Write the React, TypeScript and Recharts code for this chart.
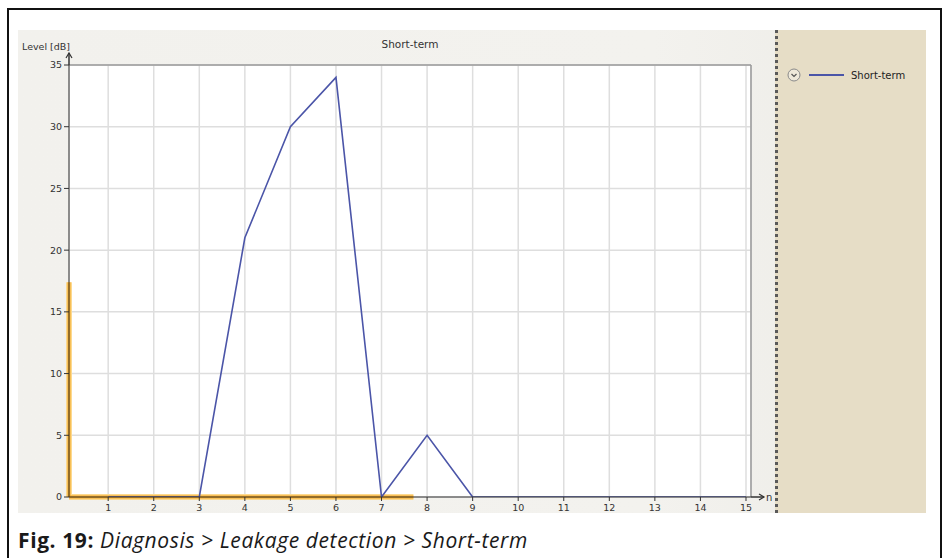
import React from "react";
import {
  LineChart,
  Line,
  XAxis,
  YAxis,
  CartesianGrid,
  ReferenceLine,
  Legend,
} from "recharts";

// sample index n and measured level in dB
const samples = [1, 2, 3, 4, 5, 6, 7, 8, 9, 10, 11, 12, 13, 14, 15];
const levels = [0, 0, 0, 21, 30, 34, 0, 5, 0, 0, 0, 0, 0, 0, 0];

const xTicks = [1, 2, 3, 4, 5, 6, 7, 8, 9, 10, 11, 12, 13, 14, 15];
const yTicks = [0, 5, 10, 15, 20, 25, 30, 35];
const xDomain = [0.14, 15.11];
const yDomain = [0, 35];

// orange selection marks on the axes
const markerX = [0.14, 7.7];
const markerY = [0, 17.4];

const data = samples.map((n, i) => ({ n, level: levels[i] }));

const BLUE = "#4b55a8";
const ORANGE = "#f3a620";
const GLOW = "#fcd990";
const UI_FONT = "'DejaVu Sans', sans-serif";

const YLabel = ({ viewBox }: any) => {
  const x = viewBox.x + viewBox.width;
  const y = viewBox.y;
  return (
    <g>
      <line x1={x} y1={y} x2={x} y2={y - 12} stroke="#333" strokeWidth={1.5} />
      <polyline
        points={`${x - 3},${y - 7} ${x},${y - 12} ${x + 3},${y - 7}`}
        fill="none"
        stroke="#333"
        strokeWidth={1.2}
      />
      <text x={4} y={y - 15} fontSize={9.5} fill="#333" fontFamily={UI_FONT}>
        Level [dB]
      </text>
    </g>
  );
};

const XLabel = ({ viewBox }: any) => {
  const x = viewBox.x + viewBox.width;
  const y = viewBox.y;
  return (
    <g>
      <line x1={x} y1={y} x2={x + 13} y2={y} stroke="#333" strokeWidth={1.5} />
      <polyline
        points={`${x + 8},${y - 3} ${x + 13},${y} ${x + 8},${y + 3}`}
        fill="none"
        stroke="#333"
        strokeWidth={1.2}
      />
      <text x={x + 15} y={y + 4} fontSize={10} fill="#333" fontFamily={UI_FONT}>
        n
      </text>
    </g>
  );
};

const LegendPanel = ({ payload }: any) => (
  <div
    style={{
      display: "flex",
      alignItems: "center",
      marginTop: 38,
      marginLeft: 9,
      fontFamily: UI_FONT,
      fontSize: 10,
      color: "#222",
    }}
  >
    <svg width={14} height={14} style={{ marginRight: 8 }}>
      <circle cx={7} cy={7} r={6} fill="#efe9da" stroke="#8a8a8a" strokeWidth={1} />
      <polyline points="4.5,6 7,8.5 9.5,6" fill="none" stroke="#555" strokeWidth={1.2} />
    </svg>
    {(payload || []).map((p: any) => (
      <React.Fragment key={p.value}>
        <span
          style={{ display: "inline-block", width: 35, height: 2, background: p.color, marginRight: 7 }}
        />
        <span>{p.value}</span>
      </React.Fragment>
    ))}
  </div>
);

export default function App() {
  return (
    <div style={{ position: "absolute", left: 0, top: 0, width: 944, height: 558, background: "#fff" }}>
      <div
        style={{
          position: "absolute",
          left: 7,
          top: 8,
          width: 931,
          height: 560,
          borderTop: "2px solid #111",
          borderLeft: "2px solid #111",
          borderRight: "2px solid #111",
        }}
      />
      <div
        style={{
          position: "absolute",
          left: 18,
          top: 30,
          width: 908,
          height: 483,
          background: "linear-gradient(90deg, #f2f1ed 0%, #f3f2ee 70%, #ecebe6 100%)",
        }}
      >
        <div
          style={{
            position: "absolute",
            left: 312,
            top: 8,
            width: 160,
            textAlign: "center",
            fontFamily: UI_FONT,
            fontSize: 10.5,
            color: "#333",
          }}
        >
          Short-term
        </div>
        <LineChart width={908} height={483} data={data} margin={{ top: 35, right: 175, bottom: 0, left: 0 }}>
          <CartesianGrid stroke="#dedede" strokeWidth={1.5} fill="#ffffff" />
          <XAxis
            dataKey="n"
            type="number"
            domain={xDomain}
            allowDataOverflow
            ticks={xTicks}
            height={16}
            tickSize={4}
            stroke="#333"
            tick={{ fontSize: 9.5, fill: "#333", fontFamily: UI_FONT, dy: 1 }}
            label={{ content: XLabel }}
          />
          <YAxis
            type="number"
            domain={yDomain}
            allowDataOverflow
            ticks={yTicks}
            width={51}
            tickSize={5}
            stroke="#333"
            tick={{ fontSize: 9.5, fill: "#333", fontFamily: UI_FONT }}
            label={{ content: YLabel }}
          />
          <ReferenceLine y={yDomain[1]} stroke="#9a9a9a" strokeWidth={1.5} />
          <ReferenceLine x={xDomain[1]} stroke="#9a9a9a" strokeWidth={1.5} />
          <ReferenceLine
            segment={[{ x: markerX[0], y: markerY[0] }, { x: markerX[1], y: markerY[0] }]}
            stroke={GLOW}
            strokeWidth={6}
          />
          <ReferenceLine
            segment={[{ x: markerX[0], y: markerY[0] }, { x: markerX[0], y: markerY[1] }]}
            stroke={GLOW}
            strokeWidth={6}
          />
          <ReferenceLine
            segment={[{ x: markerX[0], y: markerY[0] }, { x: markerX[1], y: markerY[0] }]}
            stroke={ORANGE}
            strokeWidth={3}
          />
          <ReferenceLine
            segment={[{ x: markerX[0], y: markerY[0] }, { x: markerX[0], y: markerY[1] }]}
            stroke={ORANGE}
            strokeWidth={3}
          />
          <Line
            type="linear"
            dataKey="level"
            name="Short-term"
            stroke={BLUE}
            strokeWidth={1.6}
            dot={false}
            activeDot={false}
            isAnimationActive={false}
          />
          <Legend
            layout="vertical"
            align="center"
            verticalAlign="middle"
            content={LegendPanel}
            wrapperStyle={{
              left: 757,
              top: 0,
              width: 151,
              height: 483,
              background: "#e6ddc6",
              borderLeft: "3px dotted #5a5a5a",
              boxSizing: "border-box",
            }}
          />
        </LineChart>
      </div>
      <div
        style={{
          position: "absolute",
          left: 18,
          top: 526,
          fontFamily: "'Open Sans', sans-serif",
          fontSize: 21,
          letterSpacing: 0.6,
          color: "#1a1a1a",
          whiteSpace: "nowrap",
        }}
      >
        <b>Fig. 19:</b> <i>Diagnosis &gt; Leakage detection &gt; Short-term</i>
      </div>
    </div>
  );
}
